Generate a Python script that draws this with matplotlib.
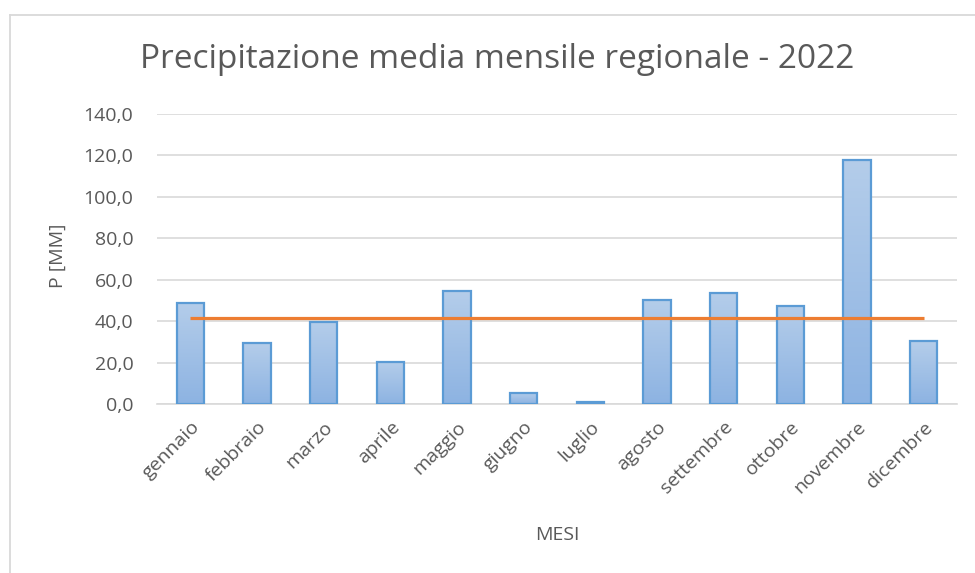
import numpy as np
import matplotlib.pyplot as plt
from matplotlib.colors import LinearSegmentedColormap
from matplotlib.lines import Line2D

plt.rcParams['font.family'] = ['Open Sans', 'DejaVu Sans']

mesi = ["gennaio", "febbraio", "marzo", "aprile", "maggio", "giugno",
        "luglio", "agosto", "settembre", "ottobre", "novembre", "dicembre"]
pioggia = [48.9, 29.3, 39.7, 20.3, 54.7, 5.5, 1.1, 50.2, 53.7, 47.5, 117.8, 30.3]
media = 41.6
yticks = [0, 20, 40, 60, 80, 100, 120, 140]

GRAY = "#595959"
W, H = 975, 573

fig = plt.figure(figsize=(W / 100, H / 100), dpi=100)
ax = fig.add_axes([157 / W, 1 - 404 / H, (957 - 157) / W, (404 - 114) / H])

x = np.arange(len(mesi))
bars = ax.bar(x, pioggia, width=0.41, color="none", edgecolor="#5b9bd5",
              linewidth=1.6, zorder=3)

# gradient fill like the Excel bars
grad = LinearSegmentedColormap.from_list("g", ["#8db3e2", "#b4cdea"])
for b in bars:
    x0, y0 = b.get_x(), b.get_y()
    im = ax.imshow(np.linspace(0, 1, 100).reshape(-1, 1), cmap=grad,
                   extent=[x0, x0 + b.get_width(), y0, y0 + b.get_height()],
                   origin="lower", aspect="auto", zorder=2)
    im.set_clip_path(b)

ax.plot(x, [media] * len(mesi), color="#ed7d31", linewidth=2.3, zorder=4,
        solid_capstyle="butt")

ax.set_xlim(-0.5, len(mesi) - 0.5)
ax.set_ylim(0, 140)
ax.set_yticks(yticks)
ax.set_yticklabels([f"{v:.1f}".replace(".", ",") for v in yticks],
                   fontsize=14, color=GRAY)
ax.set_xticks(x)
ax.set_xticklabels(mesi, rotation=45, ha="right", va="top",
                   rotation_mode="anchor", fontsize=14, color=GRAY)
ax.tick_params(axis="both", length=0)
ax.tick_params(axis="y", pad=17)
ax.tick_params(axis="x", pad=10)

ax.grid(axis="y", color="#d9d9d9", linewidth=1.2, zorder=0)
ax.set_axisbelow(True)
for s in ["top", "right", "left"]:
    ax.spines[s].set_visible(False)
ax.spines["bottom"].set_color("#d9d9d9")
ax.spines["bottom"].set_linewidth(1.2)

fig.text(497 / W, 1 - 60 / H, "Precipitazione media mensile regionale - 2022",
         ha="center", va="center", fontsize=24, color=GRAY)
fig.text(58 / W, 1 - 256 / H, "P [MM]", rotation=90, ha="center",
         va="center", fontsize=14, color=GRAY)
fig.text(557 / W, 1 - 535 / H, "MESI", ha="center", va="center",
         fontsize=14, color=GRAY)

# chart border (left and top visible)
fig.add_artist(Line2D([10 / W, 10 / W], [0, 1 - 15 / H], color="#d9d9d9",
                      linewidth=1.3))
fig.add_artist(Line2D([10 / W, 1], [1 - 15 / H, 1 - 15 / H], color="#d9d9d9",
                      linewidth=1.3))

fig.savefig("out.png", dpi=100)
